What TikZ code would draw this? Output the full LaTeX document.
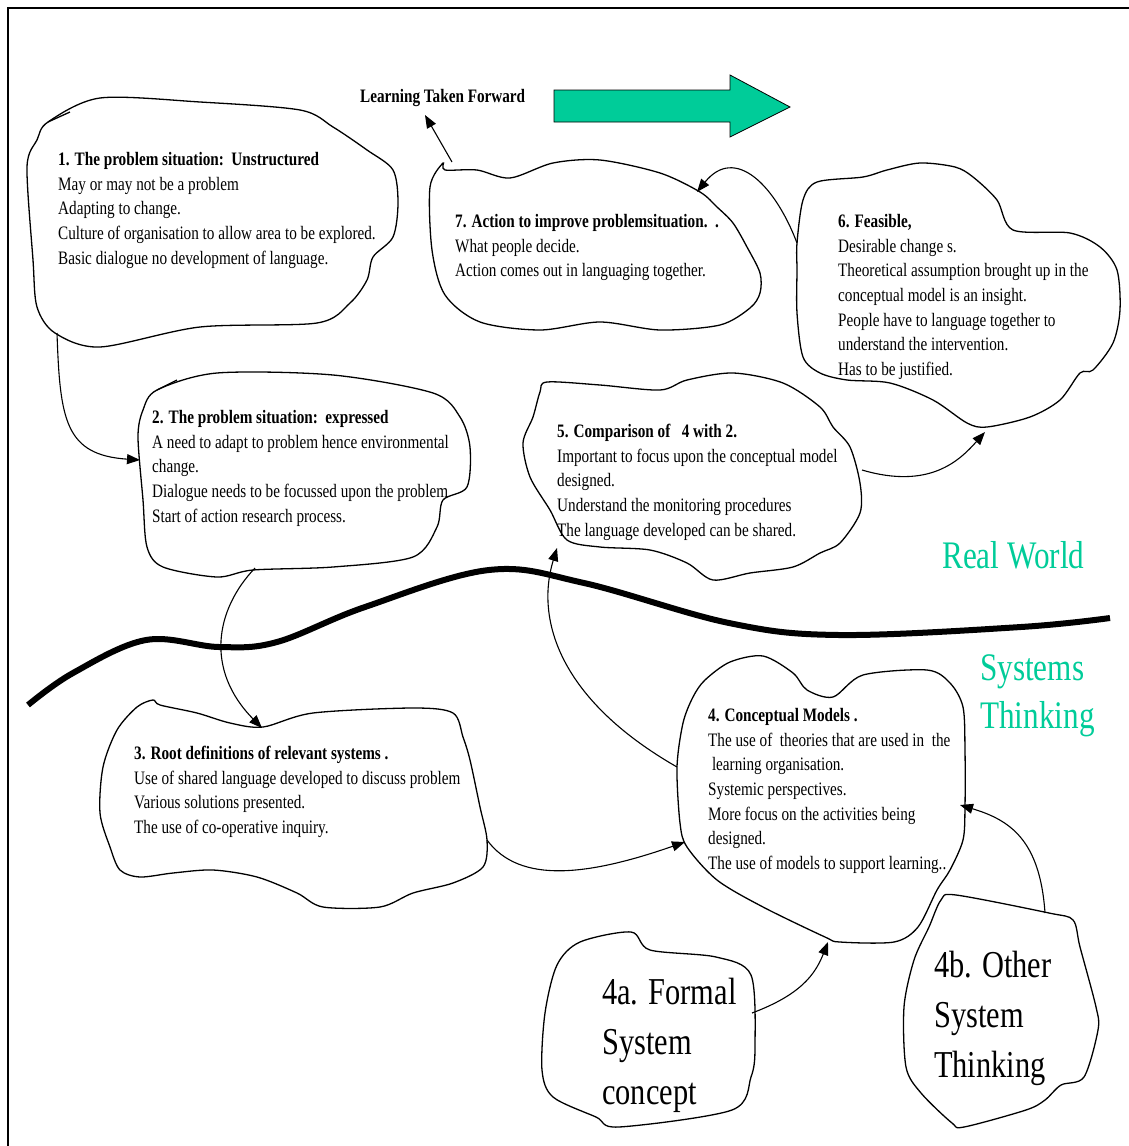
\documentclass[tikz,border=0pt]{standalone}
\usepackage{fontspec}
\setmainfont{Liberation Serif}[FakeStretch=0.8]
\usetikzlibrary{arrows.meta}
\definecolor{SystemGreen}{HTML}{00CC99}

\begin{document}
\begin{tikzpicture}[x=1pt,y=-1pt,
  blob/.style={line width=1.3pt},
  link/.style={line width=1.1pt,-{Triangle[length=13pt,width=10pt]}},
  body/.style={anchor=north west,inner sep=0pt,align=left,font=\fontsize{19}{24.7}\selectfont},
  big/.style={anchor=north west,inner sep=0pt,align=left,font=\fontsize{38}{50}\selectfont}]
  \useasboundingbox (0,0) rectangle (1129,1146);
  \draw[line width=1.6pt] (8,1146) -- (8,8) -- (1129,8);
  % soft system clouds
  \draw[blob] plot[smooth cycle,tension=0.5] coordinates {(48,122) (100,98) (200,102) (300,110) (333,127) (367,150) (393,170) (398,203) (393,237) (373,257) (367,280) (350,303) (317,323) (200,327) (100,347) (55,333) (37,307) (33,260) (27,167) (37,140)};
  \draw[blob] (48,122) -- (70,112);
  \draw[blob] plot[smooth cycle,tension=0.5] coordinates {(157,390) (217,373) (333,375) (433,393) (460,417) (470,447) (467,487) (443,500) (437,527) (413,557) (333,567) (253,570) (217,577) (163,567) (147,547) (143,500) (138,437) (143,410)};
  \draw[blob] (157,390) -- (177,380);
  \draw[blob] plot[smooth cycle,tension=0.5] coordinates {(117,730) (137,707) (153,700) (160,705) (197,713) (230,723) (263,727) (313,713) (413,708) (453,713) (463,737) (470,760) (480,807) (487,840) (483,867) (453,883) (413,893) (380,907) (323,907) (297,893) (257,877) (213,870) (173,873) (140,877) (120,870) (110,847) (100,813) (103,767)};
  \draw[blob] plot[smooth cycle,tension=0.5] coordinates {(705,680) (730,662) (763,656) (793,673) (807,690) (833,697) (863,675) (927,670) (950,683) (963,707) (965,750) (965,807) (963,840) (950,870) (937,890) (918,927) (894,942) (840,942) (825,937) (763,907) (717,880) (687,847) (680,823) (677,767) (683,723) (693,697)};
  \draw[blob] plot[smooth cycle,tension=0.5] coordinates {(540,392) (547,382) (600,385) (660,390) (687,380) (733,373) (783,383) (820,407) (833,427) (850,447) (860,483) (860,513) (840,543) (820,553) (793,567) (750,573) (713,580) (687,563) (650,550) (600,547) (567,540) (550,510) (530,477) (523,443) (533,417)};
  \draw[blob] plot[smooth cycle,tension=0.5] coordinates {(797,243) (803,200) (817,182) (863,177) (887,170) (920,163) (955,167) (973,177) (997,200) (1013,230) (1070,233) (1100,247) (1117,270) (1120,310) (1113,343) (1093,370) (1080,373) (1060,400) (1030,417) (987,427) (967,423) (933,400) (890,383) (847,380) (820,373) (803,357) (797,313) (797,270)};
  \draw[blob] plot[smooth cycle,tension=0.5] coordinates {(430,187) (443,163) (445,170) (477,170) (510,178) (553,163) (600,160) (660,173) (700,192) (717,207) (733,223) (747,247) (760,273) (760,293) (750,308) (720,325) (660,330) (600,322) (540,330) (480,322) (445,295) (432,250)};
  \draw[blob] plot[smooth cycle,tension=0.5] coordinates {(545,1013) (557,965) (580,942) (631,932) (650,950) (716,957) (751,975) (755,1047) (751,1077) (732,1110) (619,1127) (596,1117) (553,1097) (542,1070)};
  \draw[blob] plot[smooth cycle,tension=0.5] coordinates {(941,900) (956,895) (1049,913) (1073,920) (1080,947) (1096,1007) (1098,1030) (1084,1077) (1061,1085) (1045,1100) (1026,1110) (964,1127) (952,1123) (921,1093) (906,1067) (904,1007) (914,960) (929,927)};
  % boundary between the two worlds
  \draw[line width=6pt] plot[smooth,tension=0.6] coordinates {(28,705) (73,673) (146,640) (219,647) (277,642) (365,607) (489,570) (584,583) (729,623) (839,635) (1021,627) (1110,618)};
  \draw[fill=SystemGreen,line width=0.8pt] (554,90) -- (730,90) -- (730,75) -- (790,107) -- (730,137) -- (730,122) -- (554,122) -- cycle;
  \node[body] (situation) at (58,152) {\textbf{1. The problem situation:\ \ Unstructured}\\May or may not be a problem\\Adapting to change.\\Culture of organisation to allow area to be explored.\\Basic dialogue no development of language.};
  \node[body] (expressed) at (152,410) {\textbf{2. The problem situation:\ \ expressed}\\A need to adapt to problem hence environmental\\change.\\Dialogue needs to be focussed upon the problem\\Start of action research process.};
  \node[body] (rootdef) at (134,746) {\textbf{3. Root definitions of relevant systems .}\\Use of shared language developed to discuss problem\\Various solutions presented.\\The use of co-operative inquiry.};
  \node[body] (concept) at (708,708) {\textbf{4. Conceptual Models .}\\The use of\ \ theories that are used in\ \ the\\\ learning organisation.\\Systemic perspectives.\\More focus on the activities being\\designed.\\The use of models to support learning..};
  \node[body] (compare) at (557,424) {\textbf{5. Comparison of\ \ \ 4 with 2.}\\Important to focus upon the conceptual model\\designed.\\Understand the monitoring procedures\\The language developed can be shared.};
  \node[body] (feasible) at (838,214) {\textbf{6. Feasible,}\\Desirable change s.\\Theoretical assumption brought up in the\\conceptual model is an insight.\\People have to language together to\\understand the intervention.\\Has to be justified.};
  \node[body] (action) at (455,214) {\textbf{7. Action to improve problemsituation.\ \ .}\\What people decide.\\Action comes out in languaging together.};
  \node[big] (formal) at (602,978) {4a. Formal\\System\\concept};
  \node[big] (other) at (934,951) {4b. Other\\System\\Thinking};
  \node[body,font=\bfseries\fontsize{19}{24.7}\selectfont] (forward) at (360,89) {Learning Taken Forward};
  \node[big,text=SystemGreen,font=\fontsize{39}{48}\selectfont] (realworld) at (942,541) {Real World};
  \node[big,text=SystemGreen,font=\fontsize{39}{48}\selectfont] (systems) at (980,654) {Systems\\Thinking};
  % link ends
  \coordinate (s1) at (57,333);
  \coordinate (e2) at (140,460);
  \coordinate (s2) at (255,568);
  \coordinate (e3) at (262,728);
  \coordinate (s3) at (487,840);
  \coordinate (e4) at (685,842);
  \coordinate (s4) at (677,767);
  \coordinate (e5) at (557,548);
  \coordinate (s5) at (862,470);
  \coordinate (e6) at (985,432);
  \coordinate (s6) at (797,243);
  \coordinate (e7) at (697,192);
  \coordinate (s7) at (452,162);
  \coordinate (ef) at (425,115);
  \coordinate (sa) at (752,1013);
  \coordinate (ea) at (828,942);
  \coordinate (sb) at (1045,913);
  \coordinate (eb) at (960,805);
  \draw[link] (s1) .. controls (60,420) and (65,455) .. (e2);
  \draw[link] (s2) .. controls (215,610) and (205,670) .. (e3);
  \draw[link] (s3) .. controls (520,885) and (590,875) .. (e4);
  \draw[link] (s4) .. controls (560,700) and (535,620) .. (e5);
  \draw[link] (s5) .. controls (930,490) and (960,460) .. (e6);
  \draw[link] (s6) .. controls (775,185) and (735,145) .. (e7);
  \draw[link] (s7) -- (ef);
  \draw[link] (sa) .. controls (800,995) and (815,975) .. (ea);
  \draw[link] (sb) .. controls (1040,840) and (1010,820) .. (eb);
\end{tikzpicture}
\end{document}
